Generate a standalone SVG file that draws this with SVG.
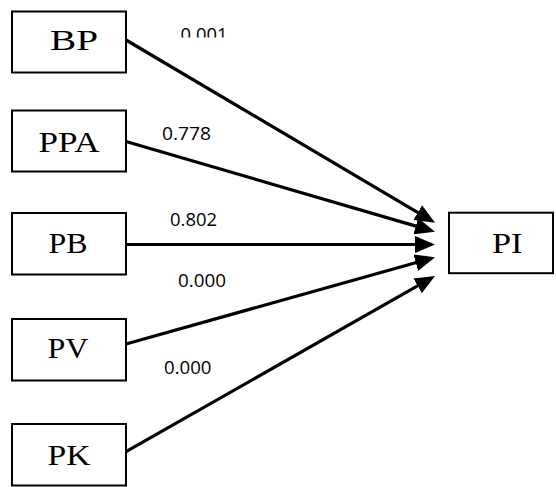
<svg xmlns="http://www.w3.org/2000/svg" width="556" height="487" viewBox="0 0 556 487">
<style>
.box{fill:#fff;stroke:#000;stroke-width:2}
.lbl{font-family:"Liberation Serif","Times New Roman",serif;font-size:30px;fill:#000}
.val{font-family:"Open Sans","Noto Sans",sans-serif;font-size:18px;fill:#000}
.edge{stroke:#000;stroke-width:3.2;fill:none;marker-end:url(#ah)}
</style>
<defs>
<marker id="ah" markerUnits="userSpaceOnUse" markerWidth="20" markerHeight="17" refX="10" refY="8.5" orient="auto" viewBox="0 0 20 17">
<path d="M0,0 L20,8.5 L0,17 z" fill="#000"/>
</marker>
<clipPath id="clipTop"><rect x="0" y="0" width="556" height="37.5"/></clipPath>
</defs>
<rect width="556" height="487" fill="#fff"/>
<g id="connectors">
<line class="edge" x1="126" y1="40" x2="426.4" y2="217.6"/>
<line class="edge" x1="126" y1="141.5" x2="425.4" y2="228.9"/>
<line class="edge" x1="126" y1="244.5" x2="425" y2="244.5"/>
<line class="edge" x1="126" y1="344" x2="425.4" y2="260"/>
<line class="edge" x1="126" y1="451.7" x2="426.3" y2="280.9"/>
<text class="val" x="180.5" y="41" textLength="47" lengthAdjust="spacingAndGlyphs" clip-path="url(#clipTop)">0.001</text>
<text class="val" x="162" y="140" textLength="49" lengthAdjust="spacingAndGlyphs">0.778</text>
<text class="val" x="170" y="226" textLength="47" lengthAdjust="spacingAndGlyphs">0.802</text>
<text class="val" x="178" y="287.3" textLength="48" lengthAdjust="spacingAndGlyphs">0.000</text>
<text class="val" x="164" y="374.3" textLength="47.5" lengthAdjust="spacingAndGlyphs">0.000</text>
</g>
<g id="BP"><rect class="box" x="12" y="11.5" width="114" height="61"/><text class="lbl" x="50" y="50" textLength="48" lengthAdjust="spacingAndGlyphs">BP</text></g>
<g id="PPA"><rect class="box" x="12" y="110.5" width="114" height="61"/><text class="lbl" x="38.5" y="151.7" textLength="61" lengthAdjust="spacingAndGlyphs">PPA</text></g>
<g id="PB"><rect class="box" x="12" y="213" width="114" height="61.5"/><text class="lbl" x="48.5" y="252.7" textLength="39" lengthAdjust="spacingAndGlyphs">PB</text></g>
<g id="PV"><rect class="box" x="12" y="319" width="114" height="61.5"/><text class="lbl" x="47.5" y="358.3" textLength="41" lengthAdjust="spacingAndGlyphs">PV</text></g>
<g id="PK"><rect class="box" x="12" y="424" width="114" height="61.5"/><text class="lbl" x="47.5" y="465" textLength="43" lengthAdjust="spacingAndGlyphs">PK</text></g>
<g id="PI"><rect class="box" x="449" y="212.7" width="104" height="60.5"/><text class="lbl" x="492" y="253.3" textLength="30.5" lengthAdjust="spacingAndGlyphs">PI</text></g>
</svg>
